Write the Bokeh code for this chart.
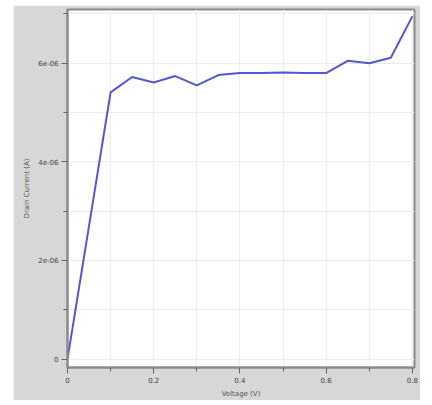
from bokeh.plotting import figure
from bokeh.models import FixedTicker, Range1d, Spacer
from bokeh.layouts import row, column
from bokeh.embed import file_html
from bokeh.resources import INLINE

voltage = [0.0, 0.1, 0.15, 0.2, 0.25, 0.3, 0.35, 0.4, 0.45, 0.5, 0.55, 0.6, 0.65, 0.7, 0.75, 0.8]
current = [0.0, 5.41e-6, 5.72e-6, 5.61e-6, 5.74e-6, 5.55e-6, 5.76e-6, 5.80e-6, 5.80e-6, 5.81e-6,
           5.80e-6, 5.80e-6, 6.05e-6, 6.00e-6, 6.11e-6, 6.95e-6]

x_ticks = [0.0, 0.2, 0.4, 0.6, 0.8]
x_minor = [0.1, 0.3, 0.5, 0.7]
x_labels = {0.0: "0", 0.2: "0.2", 0.4: "0.4", 0.6: "0.6", 0.8: "0.8"}
y_ticks = [0.0, 2e-6, 4e-6, 6e-6]
y_minor = [1e-6, 3e-6, 5e-6, 7e-6]
y_labels = {0.0: "0", 2e-6: "2e-06", 4e-6: "4e-06", 6e-6: "6e-06"}

p = figure(width=407, height=395, output_backend="svg", toolbar_location=None,
           x_range=Range1d(0, 0.805), y_range=Range1d(-0.17e-6, 7.09e-6),
           min_border_left=54, min_border_right=6, min_border_top=4, min_border_bottom=31,
           background_fill_color="white", border_fill_color="#d7d7d7")

p.line(voltage, current, line_color="#5656d2", line_width=2)

p.xaxis.ticker = FixedTicker(ticks=x_ticks, minor_ticks=x_minor)
p.yaxis.ticker = FixedTicker(ticks=y_ticks, minor_ticks=y_minor)
p.xaxis.major_label_overrides = x_labels
p.yaxis.major_label_overrides = y_labels
p.xaxis.axis_label = "Voltage (V)"
p.yaxis.axis_label = "Drain Current (A)"

for ax in (p.xaxis, p.yaxis):
    ax.axis_line_color = "#8a8a8a"
    ax.axis_line_width = 2
    ax.major_tick_line_color = "#666666"
    ax.minor_tick_line_color = "#666666"
    ax.major_tick_out = 6
    ax.major_tick_in = 0
    ax.minor_tick_out = 4
    ax.minor_tick_in = 0
    ax.major_label_standoff = 3
    ax.major_label_text_font_size = "7px"
    ax.major_label_text_color = "#444444"
    ax.major_label_text_font = "DejaVu Sans"
    ax.axis_label_text_font_size = "7px"
    ax.axis_label_text_color = "#555555"
    ax.axis_label_text_font = "DejaVu Sans"
    ax.axis_label_text_font_style = "normal"
    ax.axis_label_standoff = 4

p.xgrid.ticker = FixedTicker(ticks=x_ticks + x_minor)
p.ygrid.ticker = FixedTicker(ticks=y_ticks + y_minor)
p.xgrid.grid_line_color = "#ececec"
p.ygrid.grid_line_color = "#ececec"

p.outline_line_color = "#8a8a8a"
p.outline_line_width = 2

layout = row(Spacer(width=13), column(Spacer(height=5), p))

open("out.html", "w").write(file_html(layout, INLINE))
